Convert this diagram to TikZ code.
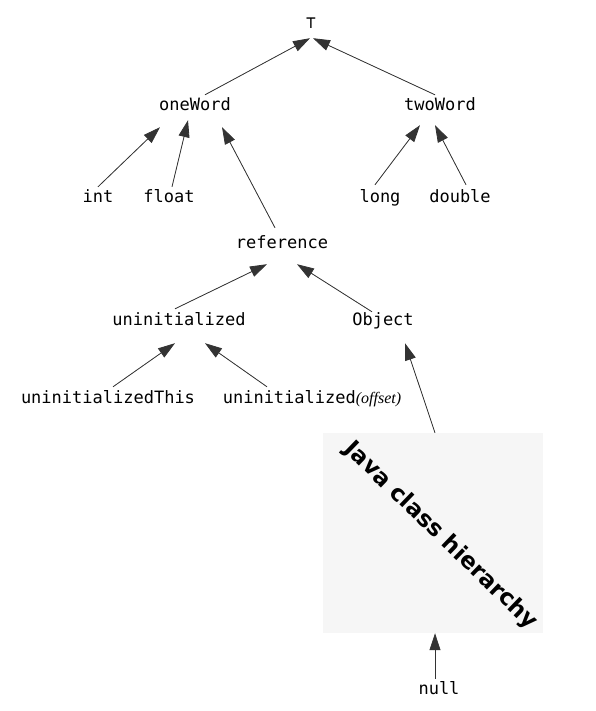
\documentclass[tikz,border=0pt]{standalone}
\usepackage{fontspec}
\setmonofont{DejaVu Sans Mono}
\newfontfamily\titlefont{DejaVu Sans}
\newfontfamily\argfont{Liberation Serif}
\usetikzlibrary{arrows.meta}
\definecolor{boxgray}{RGB}{246,246,246}
\definecolor{linegray}{RGB}{51,51,51}

\begin{document}
\begin{tikzpicture}[
  x=1pt, y=-1pt,
  font=\ttfamily\fontsize{17}{20}\selectfont,
  word/.style={inner sep=0pt, text height=16pt, text depth=16pt, anchor=base},
  arr/.style={-{Triangle[length=17pt,width=11pt]}, draw=linegray, fill=linegray, line width=0.8pt}
]
\useasboundingbox (0,0) rectangle (596,711);
% lattice of verification types
\node[word, text depth=9pt] (top) at (311,29) {⊤};
\node[word] (oneWord) at (195,111) {oneWord};
\node[word] (twoWord) at (440,111) {twoWord};
\node[word] (int) at (98,203) {int};
\node[word] (float) at (169,203) {float};
\node[word] (long) at (380,203) {long};
\node[word] (double) at (460,203) {double};
\node[word] (reference) at (282,248) {reference};
\node[word] (uninit) at (179,325) {uninitialized};
\node[word] (object) at (383,325) {Object};
\node[word] (uninitThis) at (108,403) {uninitializedThis};
\node[word] (uninitOffset) at (312,403) {uninitialized{\argfont\itshape\fontsize{16}{18}\selectfont(offset)}};
\node[fill=boxgray, minimum width=220pt, minimum height=200pt, inner sep=0pt] (javabox) at (433,533) {};
\node[rotate=-44, font=\titlefont\bfseries\fontsize{23}{26}\selectfont] (title) at (441,536) {Java class hierarchy};
\node[word] (null) at (439,694) {null};
% subtype arrows
\draw[arr] ([xshift=10pt]oneWord.north) -- ([xshift=-1pt]top.south);
\draw[arr] ([xshift=-5pt]twoWord.north) -- ([xshift=2pt]top.south);
\draw[arr] (int.north) -- ([xshift=-35pt]oneWord.south);
\draw[arr] ([xshift=3pt]float.north) -- ([xshift=-7pt,yshift=7pt]oneWord.south);
\draw[arr] ([xshift=-7pt,yshift=4pt]reference.north) -- ([xshift=27pt]oneWord.south);
\draw[arr] ([xshift=-5pt,yshift=2pt]long.north) -- ([xshift=-20pt,yshift=2pt]twoWord.south);
\draw[arr] ([xshift=6pt,yshift=2pt]double.north) -- ([xshift=-5pt,yshift=2pt]twoWord.south);
\draw[arr] ([xshift=-4pt]uninit.north) -- ([xshift=-15pt]reference.south);
\draw[arr] ([xshift=-11pt,yshift=-3pt]object.north) -- ([xshift=15pt]reference.south);
\draw[arr] ([xshift=5pt]uninitThis.north) -- ([xshift=-4pt,yshift=-2pt]uninit.south);
\draw[arr] ([xshift=-45pt]uninitOffset.north) -- ([xshift=26pt,yshift=-2pt]uninit.south);
\draw[arr] ([xshift=2pt]javabox.north) -- ([xshift=22pt,yshift=-2pt]object.south);
\draw[arr] ([xshift=-4pt,yshift=-1pt]null.north) -- ([xshift=2pt]javabox.south);
\end{tikzpicture}
\end{document}
